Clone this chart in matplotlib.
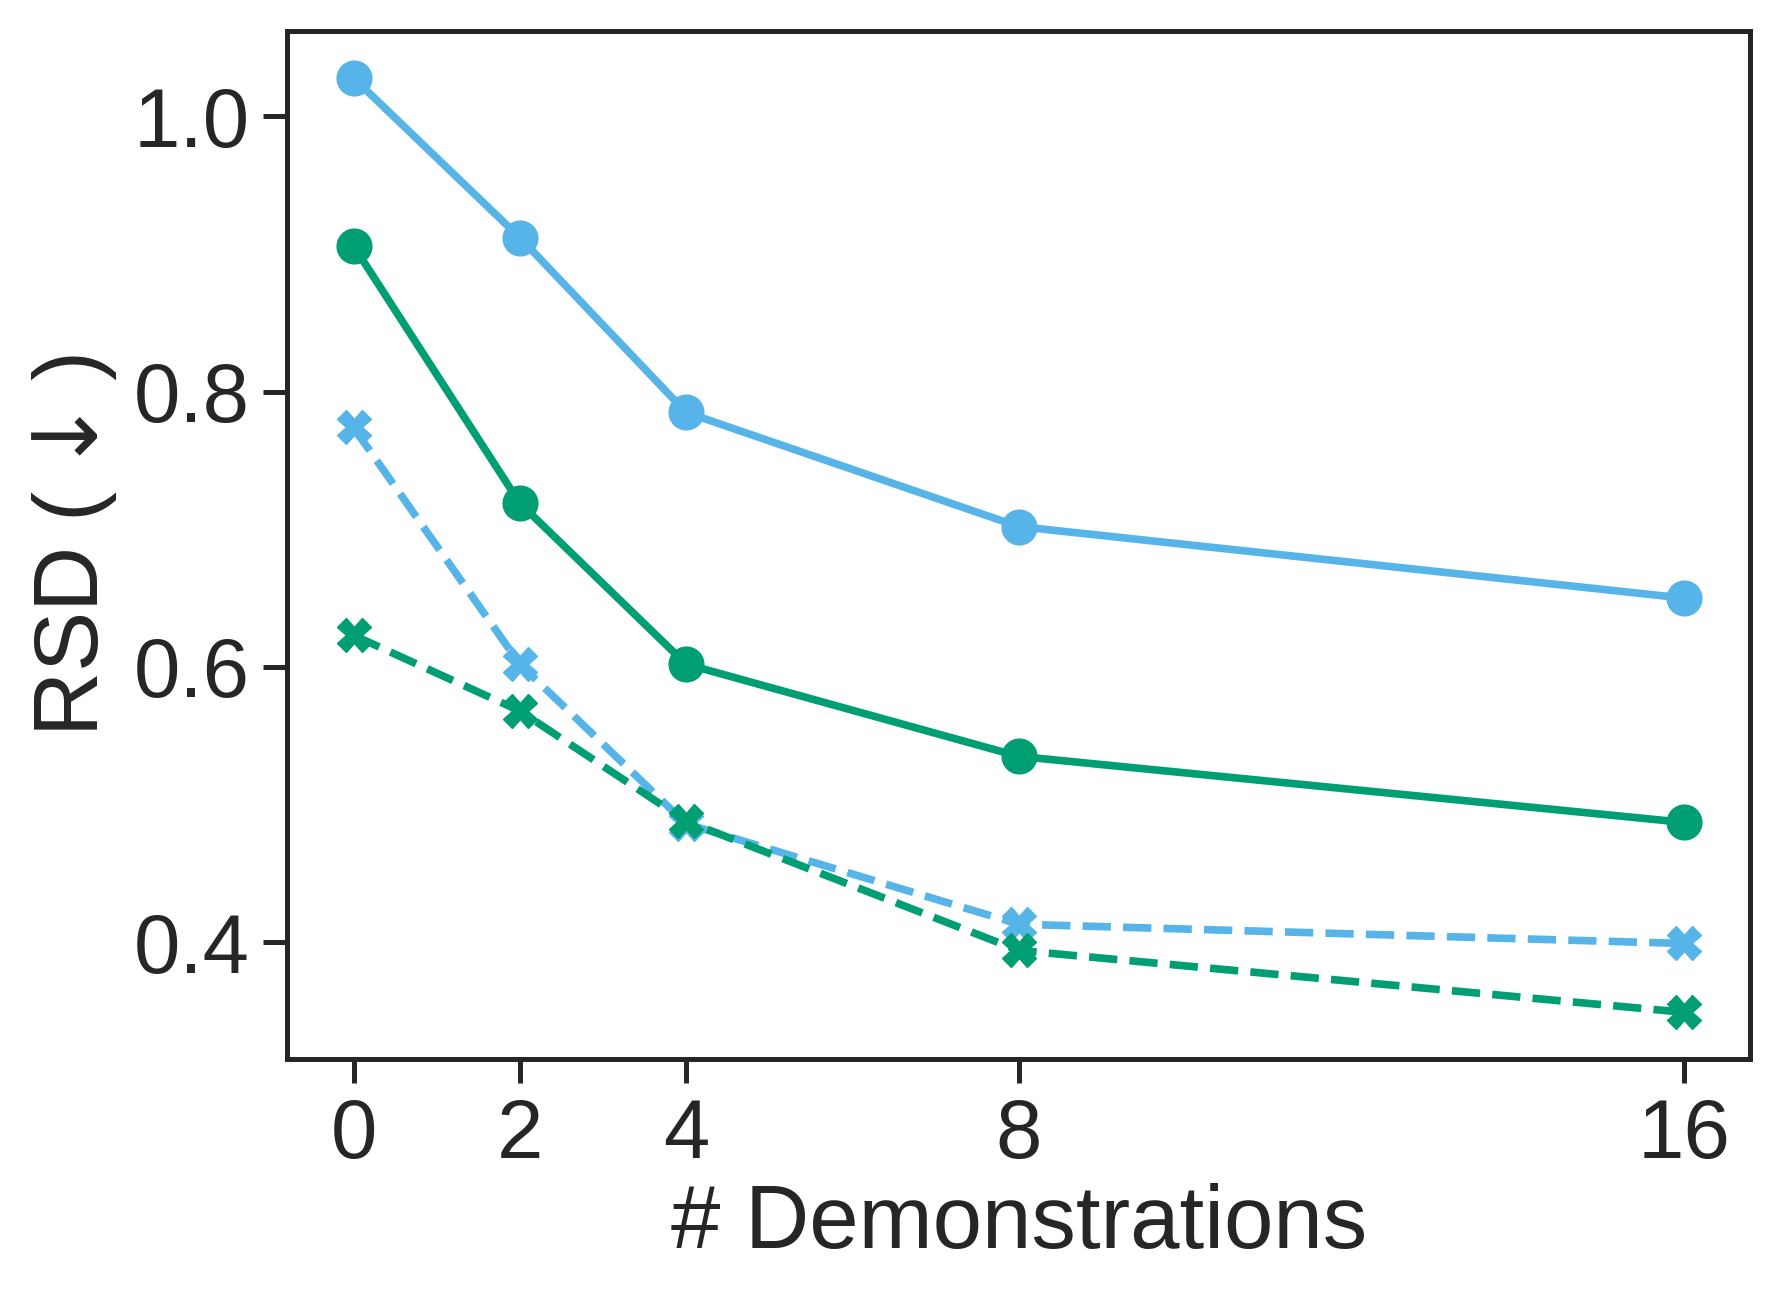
import matplotlib
matplotlib.use("Agg")
import matplotlib.pyplot as plt

demos = [0, 2, 4, 8, 16]
blue_solid = [1.028, 0.912, 0.785, 0.702, 0.650]
green_solid = [0.906, 0.719, 0.602, 0.535, 0.487]
blue_dashed = [0.774, 0.602, 0.486, 0.413, 0.399]
green_dashed = [0.623, 0.568, 0.488, 0.394, 0.349]

BLUE = "#56B4E9"
GREEN = "#009E73"
DARK = "#262626"

plt.rcParams["font.family"] = ["Liberation Sans", "DejaVu Sans"]
plt.rcParams["mathtext.fontset"] = "dejavusans"
plt.rcParams["text.color"] = DARK
plt.rcParams["axes.labelcolor"] = DARK
plt.rcParams["xtick.color"] = DARK
plt.rcParams["ytick.color"] = DARK

fig = plt.figure(figsize=(17.77, 13.01), dpi=100)
ax = fig.add_axes([0.1615, 0.186, 0.8235, 0.790])

lw = 5.5
ax.plot(demos, blue_solid, color=BLUE, lw=lw, marker="o", ms=25)
ax.plot(demos, green_solid, color=GREEN, lw=lw, marker="o", ms=25)
ax.plot(demos, blue_dashed, color=BLUE, lw=lw, ls="--", marker="X", ms=24)
ax.plot(demos, green_dashed, color=GREEN, lw=lw, ls="--", marker="X", ms=24)

ax.set_xticks(demos)
ax.set_yticks([0.4, 0.6, 0.8, 1.0])
ax.set_yticklabels(["0.4", "0.6", "0.8", "1.0"])
ax.tick_params(labelsize=60, length=17, width=3.6, pad=10)
ax.set_xlabel("# Demonstrations", fontsize=64, labelpad=6)
ax.set_ylabel("RSD (${\\downarrow}$)", fontsize=65, labelpad=10)
for s in ax.spines.values():
    s.set_linewidth(3.6)
    s.set_color(DARK)

fig.savefig("out.png", dpi=100)
